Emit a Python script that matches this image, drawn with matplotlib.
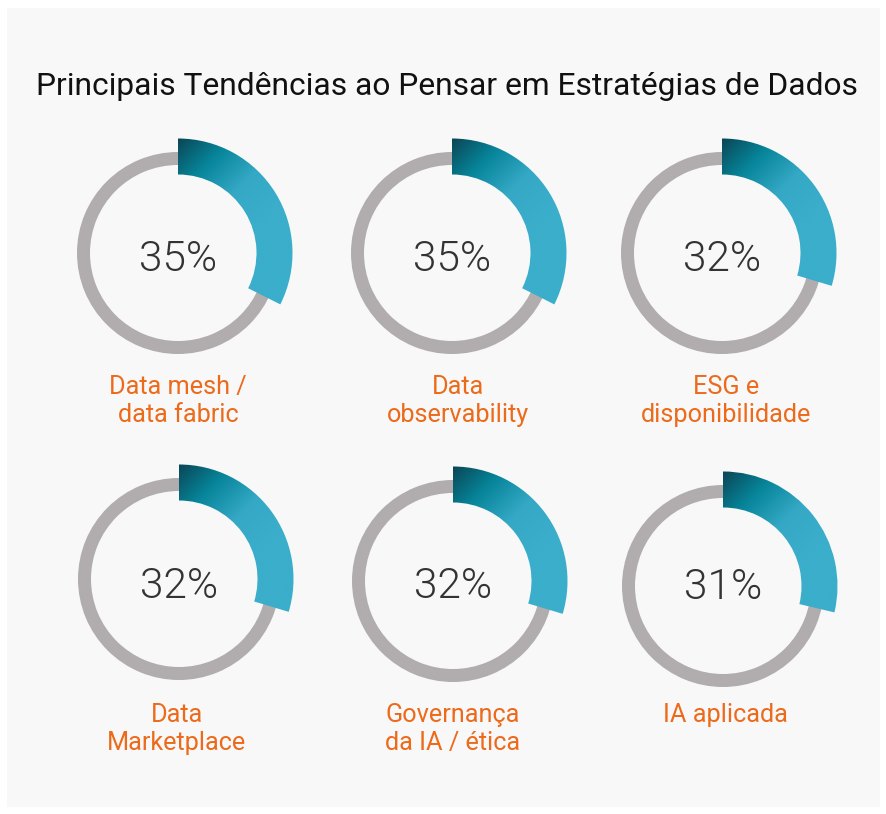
import numpy as np
import matplotlib
matplotlib.use('Agg')
import matplotlib.pyplot as plt
from matplotlib.patches import Wedge, Rectangle
from matplotlib.colors import LinearSegmentedColormap

title = 'Principais Tendências ao Pensar em Estratégias de Dados'
labels = ['Data mesh /\ndata fabric', 'Data\nobservability', 'ESG e\ndisponibilidade',
          'Data\nMarketplace', 'Governança\nda IA / ética', 'IA aplicada']
values = [35, 35, 32, 32, 32, 31]

W, H = 887, 814
centers = [(178, 253), (452, 253), (722, 253),
           (179, 579), (453, 581), (723, 586)]
pct_baseline = [271, 271, 271, 598, 598, 599]
label_pos = [(178, 394), (458, 394), (726, 394),
             (177, 722), (453, 722), (725, 722)]
FULL_TURN = 108  # percent shown by a full circle in the original artwork

GRAY = '#b1adae'
ORANGE = '#ec6a1a'
TEXT = '#333333'
grad_cmap = LinearSegmentedColormap.from_list(
    'teal', [(0.0, '#0a4656'), (0.32, '#07859a'), (0.65, '#34a8c5'), (1.0, '#3aaeca')])

plt.rcParams['font.family'] = ['Roboto', 'DejaVu Sans']

fig = plt.figure(figsize=(W / 100, H / 100), dpi=100)
fig.patch.set_facecolor('white')
ax = fig.add_axes([0, 0, 1, 1])
ax.set_xlim(0, W)
ax.set_ylim(H, 0)
ax.axis('off')

ax.add_patch(Rectangle((7, 8), 873, 799, facecolor='#f8f8f8', edgecolor='none'))
ax.text(447, 95, title, ha='center', va='baseline', fontsize=22.9, color='#111111')

r_out, r_w = 114.5, 36
for (cx, cy), v, lab, (lx, ly), py in zip(centers, values, labels, label_pos, pct_baseline):
    ax.add_patch(Wedge((cx, cy), 101, 0, 360, width=13, facecolor=GRAY, edgecolor='none'))

    ang = v / FULL_TURN * 360
    arc = Wedge((cx, cy), r_out, -90, -90 + ang, width=r_w, facecolor='none', edgecolor='none')
    ax.add_patch(arc)
    xs = np.linspace(cx, cx + r_out, 200)
    ys = np.linspace(cy - r_out, cy + r_out, 300)
    gx, gy = np.meshgrid(xs, ys)
    s = np.clip(((gx - cx) + (gy - (cy - r_out))) / 170, 0, 1)
    im = ax.imshow(s, cmap=grad_cmap, vmin=0, vmax=1, origin='upper',
                   extent=(cx, cx + r_out, cy + r_out, cy - r_out),
                   interpolation='bilinear', zorder=2)
    im.set_clip_path(arc)

    # weight 300 picks Roboto Light; 'light' falls back to Thin here
    ax.text(cx, py, f'{v}%', ha='center', va='baseline', fontsize=30.5,
            fontweight=300, color=TEXT, zorder=3)
    for i, line in enumerate(lab.split('\n')):
        ax.text(lx, ly + 28 * i, line, ha='center', va='baseline',
                fontsize=18.2, color=ORANGE)

ax.set_xlim(0, W)
ax.set_ylim(H, 0)
fig.savefig('out.png', dpi=100, facecolor='white')
